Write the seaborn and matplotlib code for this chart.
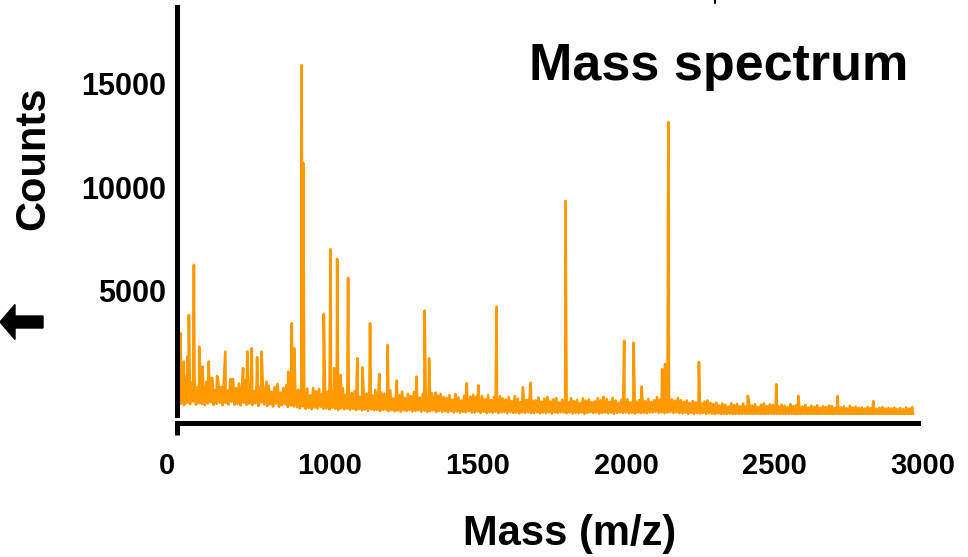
import numpy as np
import pandas as pd
import matplotlib
matplotlib.use("Agg")
import matplotlib.pyplot as plt
import seaborn as sns
from matplotlib.patches import FancyArrow
from matplotlib.lines import Line2D
from matplotlib.transforms import IdentityTransform, ScaledTranslation

# baseline noise, one value every 5 m/z from 490 to 2970 (20 values per row = 100 m/z)
noise_mz = np.arange(490, 2971, 5)
noise_counts = [
    -380, 620, -450, 280, -520, 840, -410, 150, -480, 560, -350, 720, -500, 330, -430, 900, -470, 240, -520, 610,
    -440, 480, -380, 780, -510, 210, -460, 650, -400, 350, -530, 880, -420, 190, -490, 560, -360, 740, -500, 300,
    -470, 520, -540, 260, -410, 690, -500, 380, -450, 820, -520, 150, -430, 610, -560, 330, -400, 580, -490, 220,
    -560, 420, -480, 120, -590, 350, -450, 500, -600, 80, -520, 300, -470, 450, -610, 170, -540, 380, -580, 260,
    -620, 220, -680, 350, -590, 60, -700, 280, -650, -50, -720, 310, -640, 150, -690, 260, -610, 20, -700, 330,
    -680, 120, -730, 360, -650, -80, -700, 250, -760, 90, -670, 300, -720, -30, -690, 200, -750, 60, -700, 150,
    -760, 180, -710, -120, -780, 240, -730, 40, -800, 150, -720, -60, -770, 210, -740, -150, -800, 90, -750, 30,
    -740, -80, -810, 190, -760, -200, -820, 60, -780, -40, -840, 130, -770, -180, -810, 20, -760, -90, -830, 100,
    -800, 80, -770, -160, -840, 30, -790, -230, -850, -20, -810, 60, -780, -190, -860, -60, -800, 20, -850, -140,
    -820, -170, -870, -40, -810, -260, -880, 10, -830, -150, -890, -300, -840, -60, -870, -210, -820, -110, -880, -30,
    -880, -120, -830, -320, -900, -80, -850, -240, -910, -50, -860, -280, -890, -130, -840, -350, -900, -90, -870, -200,
    -860, -260, -910, -140, -850, -330, -900, -90, -880, -220, -920, -380, -870, -120, -900, -270, -860, -180, -910, -310,
    -900, -290, -860, -160, -920, -360, -880, -210, -910, -130, -870, -340, -930, -240, -880, -180, -900, -400, -870, -260,
    -880, -240, -920, -390, -870, -190, -930, -330, -890, -270, -910, -420, -880, -200, -940, -310, -900, -250, -870, -380,
    -910, -340, -880, -190, -930, -290, -900, -430, -880, -230, -920, -360, -890, -170, -940, -300, -900, -410, -870, -260,
    -900, -320, -870, -240, -920, -390, -890, -190, -930, -350, -880, -280, -910, -150, -890, -330, -920, -230, -880, -370,
    -880, -290, -850, -140, -900, -260, -870, -330, -910, -200, -880, -120, -860, -250, -900, -310, -870, -180, -910, -290,
    -920, -370, -890, -300, -940, -420, -900, -330, -950, -390, -910, -260, -930, -440, -900, -350, -950, -300, -920, -410,
    -930, -470, -960, -410, -920, -550, -970, -450, -940, -510, -960, -600, -930, -430, -980, -520, -950, -470, -970, -580,
    -960, -450, -930, -590, -980, -420, -950, -550, -970, -480, -940, -620, -990, -500, -960, -440, -980, -570, -950, -490,
    -940, -510, -980, -440, -950, -590, -990, -500, -960, -550, -980, -620, -950, -480, -990, -570, -960, -520, -1000, -600,
    -980, -590, -950, -510, -990, -640, -960, -550, -1000, -610, -970, -530, -990, -660, -960, -580, -1000, -620, -980, -540,
    -970, -570, -990, -670, -960, -550, -1000, -630, -980, -590, -990, -680, -970, -560, -1000, -640, -980, -600, -990, -660,
    -990, -640, -970, -690, -1000, -610, -980, -670, -1000, -630, -990, -700, -970, -650, -1000, -620, -980, -690, -1000, -660,
    -990, -690, -1000, -650, -980, -710, -1000, -670, -990, -720, -1000, -640, -980, -700, -1000, -620, -1150,
]

# peaks
peak_mz = [498, 509, 521, 526, 543, 561, 572, 593, 603, 621,
           649, 667, 709, 723, 738, 756, 771, 788, 861, 873,
           881, 906, 912, 981, 1004, 1016, 1026, 1038, 1063, 1094,
           1111, 1137, 1168, 1196, 1227, 1294, 1321, 1336, 1358, 1463,
           1502, 1564, 1652, 1679, 1796, 1924, 1994, 2026, 2053, 2122,
           2132, 2143, 2246, 2411, 2507, 2581, 2714, 2834]
peak_counts = [2950, 1580, 1820, 3830, 6250, 2300, 1330, 1580, 790, 880,
               2060, 740, 1260, 2060, 2220, 1790, 2060, 610, 1090, 3430,
               2220, 15900, 11170, 3880, 7000, 1260, 6540, 930, 5630, 1740,
               1300, 3430, 980, 2380, 660, 850, 4040, 1740, 80, 530,
               440, 4230, 340, 560, 9340, -120, 2590, 2490, 370, 1210,
               1460, 13150, 1560, -80, 480, -80, -80, -330]

x_ticks = [486, 1000, 1500, 2000, 2500, 3000]
x_tick_labels = ["0", "1000", "1500", "2000", "2500", "3000"]
y_ticks = [5000, 10000, 15000]

df = pd.DataFrame({
    "mz": np.concatenate([noise_mz, peak_mz]),
    "counts": np.concatenate([noise_counts, peak_counts]),
}).sort_values("mz")

sns.set_theme(style="ticks")
plt.rcParams["font.family"] = ["Liberation Sans", "DejaVu Sans"]
for key in ["text.color", "axes.labelcolor", "xtick.color", "ytick.color"]:
    plt.rcParams[key] = "black"

fig = plt.figure(figsize=(9.68, 5.57), dpi=100)
ax = fig.add_axes([177 / 968, 1 - 415 / 557, (922.5 - 177) / 968, (415 - 7) / 557])

sns.lineplot(data=df, x="mz", y="counts", ax=ax, color="#ff9900",
             linewidth=1.9, estimator=None, sort=True)

ax.set_xlim(486, 3000)
ax.set_ylim(-1000, 18710)

sns.despine(ax=ax, offset={"bottom": 6, "left": 0})
for side in ["left", "bottom"]:
    ax.spines[side].set_linewidth(3.6)
    ax.spines[side].set_color("black")
ax.spines["bottom"].set_bounds(486, 2985)

ax.set_xticks(x_ticks)
ax.set_xticklabels(x_tick_labels, fontsize=21, fontweight="bold")
ax.set_yticks(y_ticks)
ax.set_yticklabels([str(v) for v in y_ticks], fontsize=22, fontweight="bold")
ax.tick_params(axis="x", direction="out", length=8.3, width=3.6, color="black", pad=12)
ax.tick_params(axis="y", length=0, pad=8)
for t in ax.xaxis.get_major_ticks()[1:]:
    t.tick1line.set_visible(False)
lab0 = ax.get_xticklabels()[0]
lab0.set_transform(lab0.get_transform() + ScaledTranslation(-0.1, 0, fig.dpi_scale_trans))

ax.set_xlabel("Mass (m/z)", fontsize=30, fontweight="bold")
ax.xaxis.set_label_coords(0.527, -0.243)
ax.set_ylabel("Counts", fontsize=30, fontweight="bold")
ax.yaxis.set_label_coords(-0.166, 0.63)

fig.text(908 / 968, 1 - 80 / 557, "Mass spectrum", ha="right", va="baseline",
         fontsize=37.5, fontweight="bold")

fig.add_artist(FancyArrow(43, 557 - 322, -43, 0, width=12, head_width=35,
                          head_length=15, length_includes_head=True,
                          color="black", transform=IdentityTransform()))
fig.add_artist(Line2D([715, 715], [557, 554], color="black", lw=1.5,
                      transform=IdentityTransform()))

fig.savefig("out.png", dpi=100)
